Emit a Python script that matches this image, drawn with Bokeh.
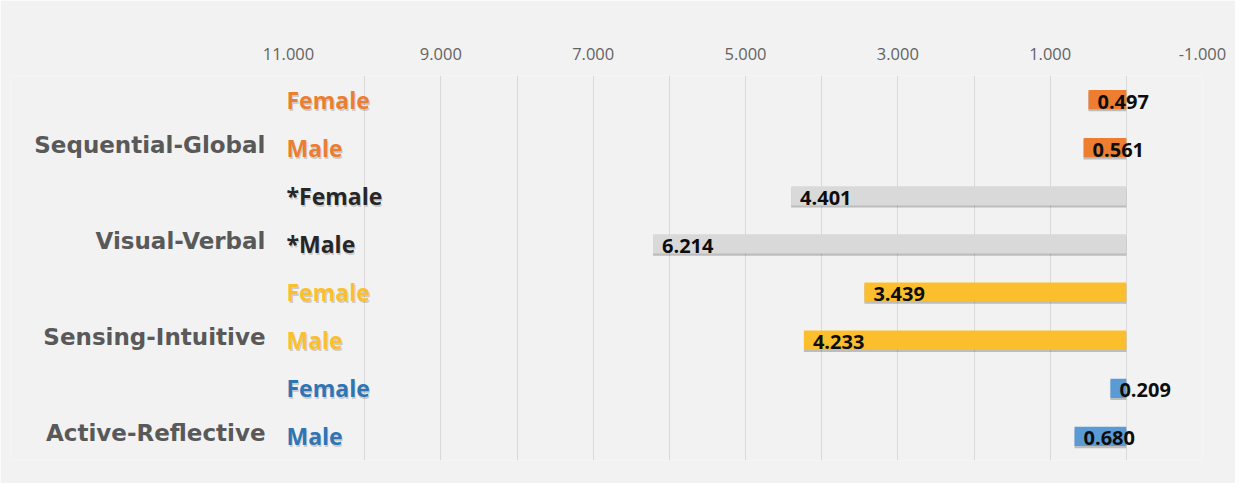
from bokeh.plotting import figure
from bokeh.models import (Range1d, FixedTicker, NumeralTickFormatter,
                          ColumnDataSource, LabelSet)
from bokeh.core.properties import value
from bokeh.embed import file_html
from bokeh.resources import INLINE

# ---- data ----
groups = ["Sequential-Global", "Visual-Verbal", "Sensing-Intuitive", "Active-Reflective"]
subgroups = ["Female", "Male", "*Female", "*Male", "Female", "Male", "Female", "Male"]
values = [0.497, 0.561, 4.401, 6.214, 3.439, 4.233, 0.209, 0.680]
value_labels = ["0.497", "0.561", "4.401", "6.214", "3.439", "4.233", "0.209", "0.680"]
tick_values = [11, 9, 7, 5, 3, 1, -1]
axis_min, axis_max = -1, 11

# ---- styles ----
bar_colors = ["#ED7D31", "#ED7D31", "#D9D9D9", "#D9D9D9",
              "#FBBF2E", "#FBBF2E", "#5B9BD5", "#5B9BD5"]
sub_colors = ["#ED7D31", "#ED7D31", "#262626", "#262626",
              "#FBBF2E", "#FBBF2E", "#2E75B6", "#2E75B6"]
BG = "#F2F2F2"

W, H = 1235, 483
frame_left, frame_right = 10, 1202       # pixel edges of plotting frame
axis_px_left = 288                       # pixel of axis_max
px_per_unit = (frame_right - axis_px_left) / (axis_max - axis_min)
x_start = axis_min + (frame_right - frame_left) / px_per_unit

rows = [i + 0.5 for i in range(len(values))]

p = figure(width=W, height=H, output_backend="svg", toolbar_location=None,
           x_range=Range1d(x_start, axis_min), y_range=Range1d(8, 0),
           x_axis_location="above", y_axis_location=None,
           min_border_left=frame_left, min_border_right=W - frame_right,
           min_border_top=75, min_border_bottom=H - 460)
p.background_fill_color = BG
p.border_fill_color = BG
p.outline_line_color = None

ax = p.xaxis[0]
ax.ticker = FixedTicker(ticks=tick_values)
ax.formatter = NumeralTickFormatter(format="0.000")
ax.axis_line_color = None
ax.major_tick_line_color = None
ax.minor_tick_line_color = None
ax.major_label_standoff = 10
ax.major_label_text_font = "Open Sans"
ax.major_label_text_font_size = "16.5px"
ax.major_label_text_color = "#636363"

p.xgrid.ticker = FixedTicker(ticks=list(range(axis_min, axis_max)))
p.xgrid.grid_line_color = "#D9D9D9"
p.xgrid.grid_line_width = 1
p.ygrid.visible = False

src = ColumnDataSource(dict(
    y=rows, v=values, lab=value_labels, color=bar_colors,
    sub=subgroups, subcolor=sub_colors, shadow_y=[r + 0.045 for r in rows],
    xs=[axis_max] * len(rows),
))

# bar shadows
p.hbar(y="shadow_y", left=0, right="v", height=0.4, source=src,
       fill_color="#000000", fill_alpha=0.22, line_color=None)
# bars
p.hbar(y="y", left=0, right="v", height=0.4, source=src,
       fill_color="color", line_color=None)

# value labels
p.add_layout(LabelSet(x="v", y="y", text="lab", source=src, x_offset=9, y_offset=-2,
                      text_font=value("Open Sans"), text_font_style="bold",
                      text_font_size="20px", text_color="#0d0d0d",
                      text_align="left", text_baseline="middle"))

# subgroup labels (with soft shadow)
p.add_layout(LabelSet(x="xs", y="y", text="sub", source=src, x_offset=-1, y_offset=-2,
                      text_font=value("Open Sans"), text_font_style="bold",
                      text_font_size="23px", text_color="#000000", text_alpha=0.18,
                      text_align="left", text_baseline="middle"))
p.add_layout(LabelSet(x="xs", y="y", text="sub", source=src, x_offset=-2, y_offset=0,
                      text_font=value("Open Sans"), text_font_style="bold",
                      text_font_size="23px", text_color="subcolor",
                      text_align="left", text_baseline="middle"))

# group labels
gsrc = ColumnDataSource(dict(
    x=[axis_max] * len(groups),
    y=[rows[2 * i + 1] for i in range(len(groups))],
    g=groups,
))
p.add_layout(LabelSet(x="x", y="y", text="g", source=gsrc, x_offset=-23, y_offset=3,
                      text_font=value("DejaVu Sans"), text_font_style="bold",
                      text_font_size="23px", text_color="#595959",
                      text_align="right", text_baseline="middle"))

open("out.html", "w").write(file_html(p, INLINE))
